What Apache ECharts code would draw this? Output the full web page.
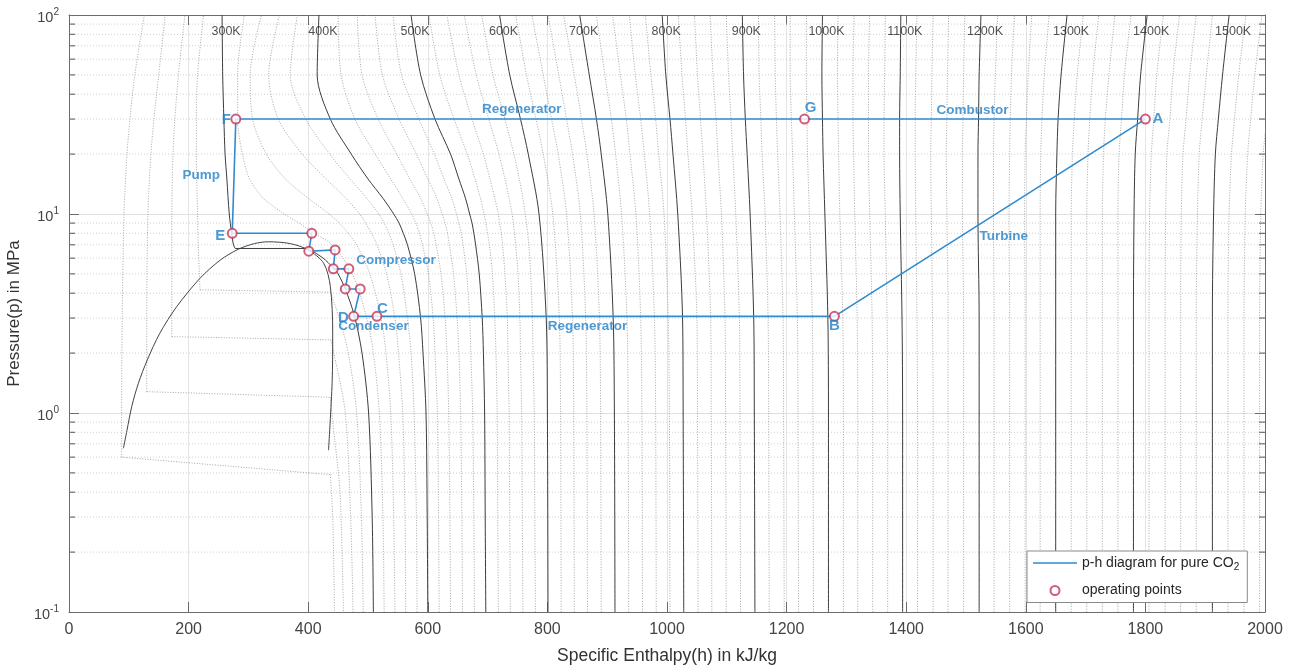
<!DOCTYPE html>
<html><head><meta charset="utf-8">
<script src="https://cdn.jsdelivr.net/npm/echarts@6/dist/echarts.min.js"></script>
<style>html,body{margin:0;padding:0;background:#fff}#c{width:1298px;height:667px}</style>
</head><body><div id="c"></div>
<script>
// ---------------- DATA ----------------
// Mid-temperature isotherms (K) sampled at these pressures (MPa); values are enthalpy h (kJ/kg)
const pMid = [0.1, 0.3, 1, 2, 3, 5, 7, 8, 9, 10, 12, 15, 20, 30, 50, 100];
const tMid = [320, 340, 360, 380, 400, 420, 440, 460, 480, 500, 520, 540, 560, 580];
const hMid = [
  [527, 525, 519, 509, 498, 474, 440, 410, 385, 360, 325, 302, 290, 282, 282, 293],
  [545, 543, 538, 530, 522, 503, 481, 467, 452, 435, 400, 362, 330, 307, 303, 322],
  [563, 562, 558, 551, 545, 531, 515, 506, 496, 486, 463, 430, 390, 350, 334, 352],
  [582, 581, 577, 572, 566, 555, 542, 535, 527, 518, 498, 470, 436, 396, 370, 382],
  [600, 599, 597, 592, 588, 578, 566, 559, 552, 543, 525, 500, 472, 437, 415, 418],
  [619, 618, 616, 612, 609, 601, 591, 586, 580, 573, 558, 538, 512, 478, 455, 450],
  [638, 637, 635, 632, 629, 622, 614, 610, 605, 599, 588, 570, 548, 517, 490, 482],
  [658, 657, 655, 652, 649, 643, 636, 633, 629, 624, 615, 600, 581, 552, 524, 512],
  [678, 677, 675, 672, 670, 665, 659, 656, 652, 648, 640, 627, 611, 585, 556, 542],
  [697, 696, 695, 693, 691, 686, 680, 677, 674, 670, 663, 652, 638, 612, 588, 572],
  [718, 717, 716, 714, 712, 708, 703, 700, 697, 694, 688, 679, 666, 644, 620, 602],
  [738, 737, 736, 734, 733, 729, 725, 723, 720, 718, 712, 704, 693, 674, 652, 632],
  [759, 758, 757, 755, 754, 751, 747, 745, 743, 741, 736, 729, 719, 702, 681, 661],
  [780, 779, 778, 776, 775, 772, 769, 767, 765, 763, 759, 753, 744, 729, 709, 690]
];
// High-temperature isotherms
const pHigh = [0.1, 1, 3, 10, 20, 30, 50, 100];
const tHigh = [600, 620, 640, 660, 680, 700, 720, 740, 760, 780, 800, 820, 840, 860, 880, 900, 920, 940, 960, 980,
  1000, 1020, 1040, 1060, 1080, 1100, 1120, 1140, 1160, 1180, 1200, 1220, 1240, 1260, 1280, 1300, 1320, 1340, 1360, 1380,
  1400, 1420, 1440, 1460, 1480, 1500, 1520, 1540, 1560];
const hHigh = [
  [801, 800, 798, 786, 768, 755, 737, 720],
  [823, 822, 820, 809, 793, 781, 765, 747],
  [845, 844, 842, 832, 818, 807, 793, 774],
  [867, 866, 864, 855, 842, 832, 819, 801],
  [890, 889, 887, 878, 866, 857, 845, 827],
  [913, 912, 910, 901, 890, 882, 870, 854],
  [936, 935, 933, 924, 914, 907, 896, 882],
  [959, 958, 956, 948, 938, 932, 922, 909],
  [982, 981, 979, 971, 962, 956, 947, 937],
  [1005, 1004, 1002, 995, 986, 981, 973, 964],
  [1028, 1027, 1026, 1018, 1010, 1005, 998, 992],
  [1052, 1051, 1050, 1042, 1035, 1031, 1025, 1019],
  [1075, 1074, 1073, 1066, 1060, 1056, 1051, 1046],
  [1099, 1098, 1097, 1091, 1085, 1082, 1077, 1072],
  [1123, 1122, 1121, 1115, 1110, 1107, 1103, 1099],
  [1147, 1146, 1145, 1139, 1134, 1131, 1128, 1126],
  [1171, 1170, 1169, 1164, 1159, 1157, 1154, 1153],
  [1196, 1195, 1194, 1189, 1185, 1183, 1181, 1180],
  [1220, 1219, 1218, 1213, 1210, 1208, 1206, 1206],
  [1245, 1244, 1243, 1238, 1235, 1234, 1233, 1233],
  [1270, 1270, 1269, 1264, 1261, 1260, 1259, 1260],
  [1295, 1295, 1294, 1289, 1287, 1286, 1285, 1286],
  [1319, 1319, 1318, 1314, 1312, 1311, 1311, 1313],
  [1344, 1344, 1343, 1339, 1337, 1337, 1337, 1339],
  [1369, 1369, 1368, 1365, 1363, 1363, 1364, 1365],
  [1394, 1394, 1393, 1390, 1389, 1389, 1390, 1391],
  [1419, 1419, 1418, 1416, 1415, 1415, 1416, 1418],
  [1445, 1445, 1444, 1442, 1441, 1442, 1443, 1445],
  [1470, 1470, 1470, 1468, 1467, 1468, 1469, 1471],
  [1496, 1496, 1496, 1494, 1494, 1495, 1496, 1498],
  [1522, 1522, 1522, 1520, 1520, 1521, 1522, 1525],
  [1547, 1547, 1547, 1546, 1546, 1547, 1549, 1553],
  [1573, 1573, 1573, 1572, 1573, 1574, 1576, 1581],
  [1599, 1599, 1599, 1598, 1599, 1601, 1604, 1610],
  [1624, 1624, 1624, 1624, 1625, 1627, 1631, 1639],
  [1650, 1650, 1650, 1650, 1652, 1654, 1659, 1669],
  [1676, 1676, 1676, 1676, 1678, 1681, 1686, 1696],
  [1702, 1702, 1702, 1702, 1704, 1707, 1712, 1722],
  [1728, 1728, 1728, 1728, 1730, 1733, 1739, 1749],
  [1754, 1754, 1754, 1754, 1756, 1760, 1765, 1776],
  [1780, 1780, 1780, 1781, 1783, 1787, 1792, 1803],
  [1806, 1806, 1806, 1807, 1810, 1814, 1819, 1830],
  [1833, 1833, 1833, 1834, 1836, 1841, 1846, 1857],
  [1859, 1859, 1859, 1860, 1863, 1868, 1874, 1885],
  [1885, 1885, 1885, 1887, 1890, 1895, 1902, 1912],
  [1912, 1912, 1912, 1914, 1917, 1922, 1929, 1940],
  [1938, 1938, 1938, 1940, 1944, 1949, 1956, 1968],
  [1965, 1965, 1965, 1967, 1971, 1976, 1983, 1995],
  [1991, 1991, 1991, 1993, 1997, 2003, 2010, 2023]
];
// Sub-critical isotherms: compressed-liquid branch, two-phase segment, vapour branch ([h, p] pairs)
const tSub = [220, 240, 260, 280, 300];
const subLiquid = [
  [[88, 0.6], [88, 1], [89, 3], [92, 10], [97, 20], [102, 30], [110, 50], [126, 100]],
  [[130, 1.28], [130, 3], [132, 10], [137, 20], [142, 30], [150, 50], [161, 100]],
  [[172, 2.42], [172, 5], [172, 10], [174, 20], [177, 30], [183, 50], [194, 100]],
  [[219, 4.16], [218, 5], [216, 7], [215, 10], [213, 20], [213, 30], [215, 50], [225, 100]],
  [[278, 6.71], [275, 7], [272, 8], [268, 10], [264, 15], [261, 20], [259, 30], [257, 50], [256, 100]]
];
const subTwoPhase = [
  [[88, 0.6], [437, 0.49]],
  [[130, 1.28], [437, 1.2]],
  [[172, 2.42], [438, 2.33]],
  [[219, 4.16], [437, 4.05]],
  [[278, 6.71], [400, 6.71]]
];
const subVapour = [
  [[437, 0.49], [441, 0.3], [444, 0.1]],
  [[437, 1.2], [441, 0.9], [452, 0.45], [455, 0.3], [459, 0.1]],
  [[438, 2.33], [443, 2], [462, 1], [471, 0.3], [475, 0.1]],
  [[437, 4.05], [452, 3], [467, 2], [481, 1], [489, 0.3], [492, 0.1]],
  [[400, 6.71], [425, 6.0], [441, 5.4], [450, 5.0], [462, 4.2], [477, 3.1], [490, 2], [501, 1], [507, 0.3], [509, 0.1]]
];
// Saturation dome
const domeH = [91, 97, 105, 116, 131, 152, 180, 219, 253, 283, 310, 333, 370, 400, 426, 437, 441, 440, 434];
const domeP = [0.665, 0.82, 1.08, 1.41, 1.85, 2.52, 3.42, 4.75, 5.87, 6.65, 7.1, 7.25, 7.1, 6.6, 5.65, 4.33, 2.52, 1.42, 0.65];
// Cycle path (A-B-C-D-compressor stages-E-F-G-A)
const cycleH = [1800, 1280, 515, 476, 487, 462, 468, 442, 445, 401, 406, 273, 279, 1230, 1800];
const cycleP = [30, 3.06, 3.06, 3.06, 4.2, 4.2, 5.3, 5.3, 6.6, 6.5, 8.0, 8.0, 30, 30, 30];
// Operating points
const ptH = [1800, 1280, 515, 476, 487, 462, 468, 442, 445, 401, 406, 273, 279, 1230];
const ptP = [30, 3.06, 3.06, 3.06, 4.2, 4.2, 5.3, 5.3, 6.6, 6.5, 8.0, 8.0, 30, 30];
// Letter labels
const letterText = ['A', 'B', 'C', 'D', 'E', 'F', 'G'];
const letterH = [1821, 1280, 524, 459, 253, 263, 1240];
const letterP = [30.2, 2.73, 3.35, 3.0, 7.8, 29.8, 34.2];
// Process labels
const procText = ['Regenerator', 'Combustor', 'Pump', 'Turbine', 'Compressor', 'Condenser', 'Regenerator'];
const procH = [757, 1511, 221, 1563, 547, 509, 867];
const procP = [33.7, 33.3, 15.7, 7.74, 5.87, 2.73, 2.73];
// Axis ticks
const yMinor = [0.2, 0.3, 0.4, 0.5, 0.6, 0.7, 0.8, 0.9, 2, 3, 4, 5, 6, 7, 8, 9, 20, 30, 40, 50, 60, 70, 80, 90];
const LABEL_P = 83;

// ---------------- CHART ----------------
const FONT = '"Liberation Sans", Arial, Helvetica, sans-serif';
const LINE_NAME = 'p-h diagram for pure CO2';
const PTS_NAME = 'operating points';
const BLUE = '#2e8bd0';
const TXT_BLUE = '#1f80c8';
const RED = '#c73456';
const SOLID = { color: '#3c3c3c', width: 1, type: 'solid' };
const DOT = { color: '#8f8f8f', width: 0.8, type: [1, 1.6] };
const series = [];

function iso(pts, solid) {
  series.push({
    type: 'line', data: pts, symbol: 'none', showSymbol: false, smooth: 0.3, silent: true,
    animation: false, z: 2, legendHoverLink: false, emphasis: { disabled: true },
    lineStyle: solid ? SOLID : DOT
  });
}
const isoLabels = [];
tSub.forEach((T, i) => {
  const solid = T % 100 === 0;
  iso(subLiquid[i], solid);
  series.push({
    type: 'line', data: subTwoPhase[i], symbol: 'none', silent: true, animation: false, z: 2,
    lineStyle: solid ? SOLID : DOT
  });
  iso(subVapour[i], solid);
  if (solid) isoLabels.push({ name: T + 'K', value: [subLiquid[i][subLiquid[i].length - 1][0], LABEL_P] });
});
tMid.forEach((T, i) => {
  const solid = T % 100 === 0;
  iso(pMid.map((p, j) => [hMid[i][j], p]), solid);
  if (solid) isoLabels.push({ name: T + 'K', value: [hMid[i][pMid.length - 1], LABEL_P] });
});
tHigh.forEach((T, i) => {
  const solid = T % 100 === 0;
  iso(pHigh.map((p, j) => [hHigh[i][j], p]), solid);
  if (solid && T <= 1500) isoLabels.push({ name: T + 'K', value: [hHigh[i][pHigh.length - 1], LABEL_P] });
});
// dome
series.push({
  type: 'line', data: domeH.map((h, i) => [h, domeP[i]]), symbol: 'none', smooth: 0.3, silent: true, animation: false, z: 3,
  lineStyle: { color: '#444', width: 1 }
});
// minor y grid + minor ticks
series.push({
  type: 'custom', silent: true, animation: false, z: 1,
  data: yMinor.map(v => [0, v]),
  renderItem: (params, api) => {
    const v = api.value(1);
    const a = api.coord([0, v]);
    const b = api.coord([2000, v]);
    return {
      type: 'group', children: [
        { type: 'line', shape: { x1: a[0], y1: a[1], x2: b[0], y2: b[1] }, style: { stroke: '#c4c4c4', lineWidth: 0.8, lineDash: [1, 2] } },
        { type: 'line', shape: { x1: a[0], y1: a[1], x2: a[0] + 6, y2: a[1] }, style: { stroke: '#555', lineWidth: 1 } },
        { type: 'line', shape: { x1: b[0] - 6, y1: b[1], x2: b[0], y2: b[1] }, style: { stroke: '#555', lineWidth: 1 } }
      ]
    };
  }
});
// cycle line
series.push({
  type: 'line', name: LINE_NAME, data: cycleH.map((h, i) => [h, cycleP[i]]), symbol: 'none', showSymbol: false, smooth: false,
  animation: false, z: 5, lineStyle: { color: BLUE, width: 1.6 }, itemStyle: { color: BLUE }
});
// operating points
series.push({
  type: 'scatter', name: PTS_NAME, data: ptH.map((h, i) => [h, ptP[i]]), symbol: 'emptyCircle', symbolSize: 9,
  animation: false, z: 6, itemStyle: { color: RED, borderColor: RED, borderWidth: 1.5 }
});
// letters
series.push({
  type: 'scatter', data: letterText.map((t, i) => ({ name: t, value: [letterH[i], letterP[i]] })), symbolSize: 0,
  silent: true, animation: false, z: 7,
  label: { show: true, position: 'inside', formatter: '{b}', color: TXT_BLUE, fontSize: 15, fontWeight: 'bold', fontFamily: FONT }
});
// process labels
series.push({
  type: 'scatter', data: procText.map((t, i) => ({ name: t, value: [procH[i], procP[i]] })), symbolSize: 0,
  silent: true, animation: false, z: 7,
  label: { show: true, position: 'inside', formatter: '{b}', color: TXT_BLUE, fontSize: 13.5, fontWeight: 'bold', fontFamily: FONT }
});
// isotherm labels
series.push({
  type: 'scatter', data: isoLabels, symbolSize: 0, silent: true, animation: false, z: 7,
  label: { show: true, position: 'inside', offset: [4, 0], formatter: '{b}', color: '#262626', fontSize: 12.5, fontFamily: FONT }
});

const axisCol = '#6b6b6b';
const option = {
  animation: false,
  backgroundColor: '#ffffff',
  grid: { left: 69, right: 33, top: 15, bottom: 55, containLabel: false, outerBoundsMode: 'none' },
  legend: {
    data: [
      { name: LINE_NAME, icon: 'path://M0,0L44,0L44,1.6L0,1.6Z', itemStyle: { color: BLUE } },
      { name: PTS_NAME }
    ],
    orient: 'vertical', left: 1027, top: 551, itemWidth: 44, itemHeight: 9, itemGap: 10,
    padding: [4, 8, 4, 6], borderColor: '#8a8a8a', borderWidth: 1, borderRadius: 0, backgroundColor: '#fff',
    formatter: n => n === LINE_NAME ? 'p-h diagram for pure CO{sub|2}' : n,
    textStyle: { fontSize: 14, color: '#262626', fontFamily: FONT, lineHeight: 16,
      rich: { sub: { fontSize: 10, fontFamily: FONT, color: '#262626', padding: [9, 0, 0, 0] } } }
  },
  xAxis: [{
    type: 'value', min: 0, max: 2000, interval: 200, position: 'bottom',
    name: 'Specific Enthalpy(h) in kJ/kg', nameLocation: 'middle', nameGap: 35,
    nameTextStyle: { fontSize: 17.5, color: '#333', fontFamily: FONT },
    axisLine: { show: true, onZero: false, lineStyle: { color: axisCol, width: 1 } },
    axisTick: { show: true, inside: true, length: 10, lineStyle: { color: axisCol } },
    axisLabel: { fontSize: 16, color: '#444', fontFamily: FONT, margin: 10, formatter: v => String(v), showMinLabel: true, showMaxLabel: true },
    splitLine: { show: true, lineStyle: { color: '#e4e4e4', width: 1 } }
  }, {
    type: 'value', min: 0, max: 2000, interval: 200, position: 'top',
    axisLine: { show: true, onZero: false, lineStyle: { color: axisCol, width: 1 } },
    axisTick: { show: true, inside: true, length: 10, lineStyle: { color: axisCol } },
    axisLabel: { show: false }, splitLine: { show: false }
  }],
  yAxis: [{
    type: 'log', logBase: 10, min: 0.1, max: 100, position: 'left',
    name: 'Pressure(p) in MPa', nameLocation: 'middle', nameGap: 46, nameRotate: 90,
    nameTextStyle: { fontSize: 17, color: '#333', fontFamily: FONT },
    axisLine: { show: true, onZero: false, lineStyle: { color: axisCol, width: 1 } },
    axisTick: { show: true, inside: true, length: 10, lineStyle: { color: axisCol } },
    axisLabel: {
      margin: 10, color: '#444', fontFamily: FONT, showMinLabel: true, showMaxLabel: true,
      formatter: v => '{b|10}{s|' + Math.round(Math.log10(v)) + '}',
      rich: { b: { fontSize: 14.5, color: '#444', fontFamily: FONT, padding: [6, 0, 0, 0] }, s: { fontSize: 10, color: '#444', fontFamily: FONT, padding: [0, 0, 6, 0] } }
    },
    splitLine: { show: true, lineStyle: { color: '#e0e0e0', width: 1 } }
  }, {
    type: 'log', logBase: 10, min: 0.1, max: 100, position: 'right',
    axisLine: { show: true, onZero: false, lineStyle: { color: axisCol, width: 1 } },
    axisTick: { show: true, inside: true, length: 10, lineStyle: { color: axisCol } },
    axisLabel: { show: false }, splitLine: { show: false }
  }],
  series: series
};
const chart = echarts.init(document.getElementById('c'), null, { renderer: 'canvas' });
chart.setOption(option);
</script></body></html>
